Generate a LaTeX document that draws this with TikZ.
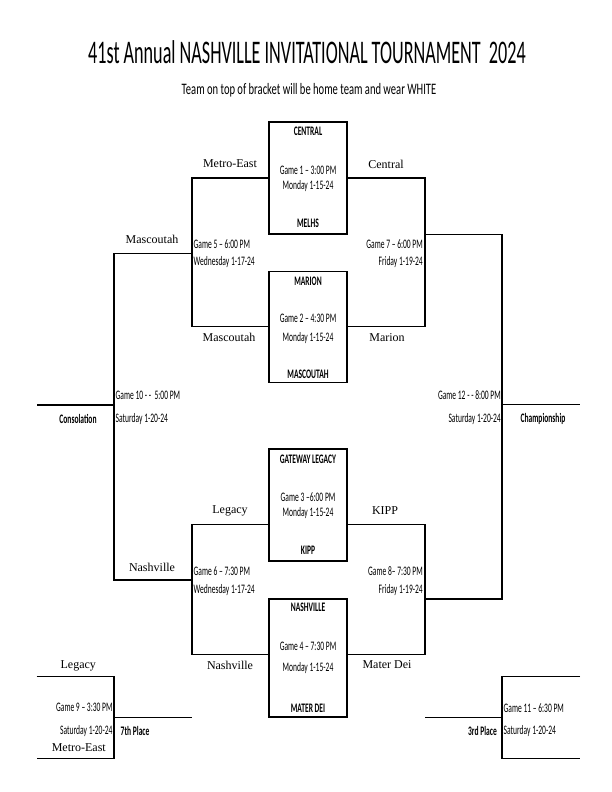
\documentclass[tikz,border=0pt]{standalone}
\usepackage{fontspec}
\setmainfont{Liberation Serif}
\newfontfamily\cf[FakeStretch=0.58]{Carlito}
\newfontfamily\tfnt[FakeStretch=0.55]{Carlito}
\newfontfamily\subfnt[FakeStretch=0.66]{Carlito}
\begin{document}
\begin{tikzpicture}[x=1pt,y=-1pt,
  box/.style={draw, line width=1.3pt, minimum width=78pt, inner sep=0pt},
  team/.style={font=\fontsize{12}{14}\selectfont, inner sep=0pt},
  info/.style={font=\cf\fontsize{13}{15}\selectfont, inner sep=0pt},
  boldlbl/.style={font=\cf\bfseries\fontsize{13}{15}\selectfont, inner sep=0pt},
  bk/.style={line width=1.3pt, line join=miter}]
\useasboundingbox (0,0) rectangle (612,792);

% titles
\node[inner sep=0pt, font=\tfnt\fontsize{33}{36}\selectfont] (title) at (307,52) {41st Annual NASHVILLE INVITATIONAL TOURNAMENT\ \ 2024};
\node[inner sep=0pt, font=\subfnt\fontsize{16}{18}\selectfont] (sub) at (309,90) {Team on top of bracket will be home team and wear WHITE};

% first-round boxes
\node[box, minimum height=112pt] (b1) at (308,178) {};
\node[box, minimum height=111pt] (b2) at (308,327.2) {};
\node[box, minimum height=112pt] (b3) at (308,505) {};
\node[box, minimum height=118pt] (b4) at (308,658) {};

\node[boldlbl] (b1h) at (308,131.7) {CENTRAL};
\node[info] (b1g) at (308,170) {Game 1 – 3:00 PM};
\node[info] (b1d) at (308,185.7) {Monday 1-15-24};
\node[boldlbl] (b1a) at (308,223) {MELHS};

\node[boldlbl] (b2h) at (308,281) {MARION};
\node[info] (b2g) at (308,318) {Game 2 – 4:30 PM};
\node[info] (b2d) at (308,337.7) {Monday 1-15-24};
\node[boldlbl] (b2a) at (308,374) {MASCOUTAH};

\node[boldlbl] (b3h) at (308,459.3) {GATEWAY LEGACY};
\node[info] (b3g) at (308,496.7) {Game 3 –6:00 PM};
\node[info] (b3d) at (308,512.7) {Monday 1-15-24};
\node[boldlbl] (b3a) at (308,550) {KIPP};

\node[boldlbl] (b4h) at (308,607.7) {NASHVILLE};
\node[info] (b4g) at (308,646) {Game 4 – 7:30 PM};
\node[info] (b4d) at (308,668.3) {Monday 1-15-24};
\node[boldlbl] (b4a) at (308,708.3) {MATER DEI};

% bracket junction coordinates
\coordinate (L1t) at (192,178);
\coordinate (L1b) at (192,326.7);
\coordinate (R1t) at (425,178);
\coordinate (R1b) at (425,326.7);
\coordinate (L3t) at (192,524.3);
\coordinate (L3b) at (192,654.3);
\coordinate (R3t) at (425,524.3);
\coordinate (R3b) at (425,654.3);

\coordinate (LM) at (192,253.3);
\coordinate (LMo) at (114,253.3);
\coordinate (LN) at (192,580);
\coordinate (LNo) at (114,580);
\coordinate (LC) at (114,405);
\coordinate (LCo) at (36.7,405);

\coordinate (RC) at (425,234.3);
\coordinate (RCo) at (502,234.3);
\coordinate (RK) at (425,599);
\coordinate (RKo) at (502,599);
\coordinate (RCh) at (502,404.3);
\coordinate (RCho) at (580,404.3);

% first-round lines
\draw[bk] (b1.west) -- (L1t) -- (L1b) -- (b2.west |- L1b);
\draw[bk] (b1.east) -- (R1t) -- (R1b) -- (b2.east |- R1b);
\draw[bk] (b3.west |- L3t) -- (L3t) -- (L3b) -- (b4.west |- L3b);
\draw[bk] (b3.east |- R3t) -- (R3t) -- (R3b) -- (b4.east |- R3b);

% second round
\draw[bk] (LM) -- (LMo) -- (LNo) -- (LN);
\draw[bk] (LC) -- (LCo);
\draw[bk] (RC) -- (RCo) -- (RKo) -- (RK);
\draw[bk] (RCh) -- (RCho);

% bottom left (7th place)
\coordinate (BLt) at (36.7,676.7);
\coordinate (BLtc) at (114,676.7);
\coordinate (BLbc) at (114,758.3);
\coordinate (BLb) at (36.7,758.3);
\coordinate (BLm) at (114,717.7);
\coordinate (BLmo) at (192,717.7);
\draw[bk] (BLt) -- (BLtc) -- (BLbc) -- (BLb);
\draw[bk] (BLm) -- (BLmo);

% bottom right (3rd place)
\coordinate (BRt) at (580,676.7);
\coordinate (BRtc) at (502,676.7);
\coordinate (BRbc) at (502,758.3);
\coordinate (BRb) at (580,758.3);
\coordinate (BRm) at (502,717.7);
\coordinate (BRmo) at (425,717.7);
\draw[bk] (BRt) -- (BRtc) -- (BRbc) -- (BRb);
\draw[bk] (BRm) -- (BRmo);

% team labels
\node[team] (t1) at (230,164) {Metro-East};
\node[team] (t2) at (386,164) {Central};
\node[team] (t3) at (229,337.7) {Mascoutah};
\node[team] (t4) at (387,337.7) {Marion};
\node[team] (t5) at (152,239) {Mascoutah};
\node[team] (t6) at (230,511) {Legacy};
\node[team] (t7) at (385,511) {KIPP};
\node[team] (t8) at (230,665) {Nashville};
\node[team] (t9) at (387,665) {Mater Dei};
\node[team] (t10) at (152,567.7) {Nashville};
\node[team] (t11) at (78.3,665.7) {Legacy};
\node[team] (t12) at (78.8,747.3) {Metro-East};

% game info
\node[info, anchor=west] (g5a) at (193.5,244.3) {Game 5 – 6:00 PM};
\node[info, anchor=west] (g5b) at (193.5,262.3) {Wednesday 1-17-24};
\node[info, anchor=east] (g7a) at (423,244.3) {Game 7 – 6:00 PM};
\node[info, anchor=east] (g7b) at (423,262.3) {Friday 1-19-24};
\node[info, anchor=west] (g10a) at (115.5,395) {Game 10 - -\ \ 5:00 PM};
\node[info, anchor=west] (g10b) at (115.5,419) {Saturday 1-20-24};
\node[info, anchor=east] (g12a) at (501,395) {Game 12 - - 8:00 PM};
\node[info, anchor=east] (g12b) at (501,419) {Saturday 1-20-24};
\node[info, anchor=west] (g6a) at (193.5,571) {Game 6 – 7:30 PM};
\node[info, anchor=west] (g6b) at (193.5,590) {Wednesday 1-17-24};
\node[info, anchor=east] (g8a) at (423,571) {Game 8– 7:30 PM};
\node[info, anchor=east] (g8b) at (423,590) {Friday 1-19-24};
\node[info, anchor=east] (g9a) at (112.7,707.7) {Game 9 – 3:30 PM};
\node[info, anchor=east] (g9b) at (112.7,731) {Saturday 1-20-24};
\node[info, anchor=west] (g11a) at (503.5,707.7) {Game 11 – 6:30 PM};
\node[info, anchor=west] (g11b) at (503.5,731) {Saturday 1-20-24};

% bold labels
\node[boldlbl] (cons) at (78,419) {Consolation};
\node[boldlbl] (champ) at (543,419) {Championship};
\node[boldlbl, anchor=west] (seventh) at (120.5,731) {7th Place};
\node[boldlbl, anchor=east] (third) at (497,731) {3rd Place};
\end{tikzpicture}
\end{document}
